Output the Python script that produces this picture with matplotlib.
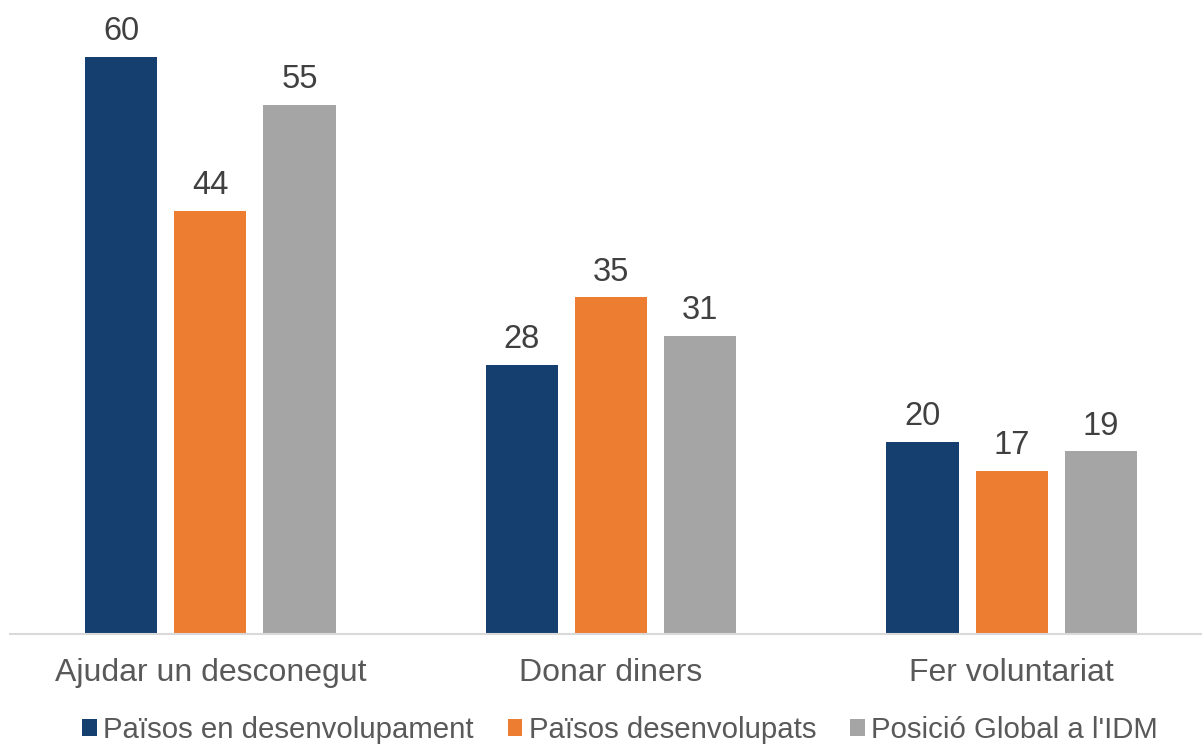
import numpy as np
import matplotlib.pyplot as plt

plt.rcParams['font.family'] = ['Liberation Sans', 'DejaVu Sans']

categories = ['Ajudar un desconegut', 'Donar diners', 'Fer voluntariat']
series_names = ['Països en desenvolupament', 'Països desenvolupats', "Posició Global a l'IDM"]
developing = [60, 28, 20]
developed = [44, 35, 17]
global_idm = [55, 31, 19]

colors = ['#153F6F', '#ED7D31', '#A5A5A5']

fig = plt.figure(figsize=(12.02, 7.44), dpi=100)
ax = fig.add_axes([10/1202, 110/744, 1192/1202, 634/744])

x = np.arange(len(categories))
width = 0.18
offset = 0.2225
for i, (vals, name) in enumerate(zip([developing, developed, global_idm], series_names)):
    bars = ax.bar(x + (i-1)*offset, vals, width, color=colors[i], label=name, zorder=2)
    for b, v in zip(bars, vals):
        ax.text(b.get_x()+b.get_width()/2, v + 1.0, str(v), ha='center', va='bottom',
                fontsize=23.5, color='#404040')

ax.set_xlim(-0.5, 2.475)
ax.set_ylim(0, 65.93)
ax.set_yticks([])
ax.set_xticks(x)
ax.set_xticklabels(categories, fontsize=23, color='#595959')
ax.tick_params(axis='x', length=0, pad=17)
for s in ['top', 'right', 'left']:
    ax.spines[s].set_visible(False)
ax.spines['bottom'].set_color('#D9D9D9')
ax.spines['bottom'].set_linewidth(1.5)

leg = fig.legend(loc='center', bbox_to_anchor=(620/1202, 1-730/744), ncol=3, frameon=False,
                 fontsize=21.2, handlelength=0.5, handleheight=0.5, handletextpad=0.22,
                 columnspacing=1.15, borderpad=0)
for t in leg.get_texts():
    t.set_color('#595959')

fig.savefig('out.png', dpi=100)
